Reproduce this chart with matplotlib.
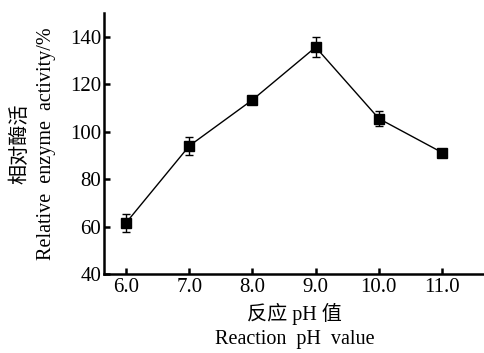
import matplotlib
matplotlib.use('Agg')
import matplotlib.pyplot as plt

ph = [6.0, 7.0, 8.0, 9.0, 10.0, 11.0]
activity = [61.6, 94.0, 113.4, 135.6, 105.5, 91.2]
errors = [3.7, 3.8, 1.6, 4.3, 3.0, 0.8]
x_ticks = ['6.0', '7.0', '8.0', '9.0', '10.0', '11.0']
y_ticks = [40, 60, 80, 100, 120, 140]

fonts = ['Liberation Serif', 'Noto Sans CJK SC']
plt.rcParams['font.family'] = fonts

fig = plt.figure(figsize=(4.85, 3.53), dpi=100)
ax = fig.add_axes([104 / 485, 1 - 274 / 353, (485 - 104) / 485, (274 - 13) / 353])

ax.errorbar(ph, activity, yerr=errors, color='black', linewidth=1.0,
            marker='s', markersize=7.5, capsize=3, elinewidth=1.0, capthick=1.0)

ax.set_xlim(5.65, 11.68)
ax.set_ylim(40, 150)
ax.set_xticks(ph)
ax.set_xticklabels(x_ticks)
ax.set_yticks(y_ticks)

for side in ['top', 'right']:
    ax.spines[side].set_visible(False)
for side in ['left', 'bottom']:
    ax.spines[side].set_linewidth(1.8)

ax.tick_params(direction='in', length=4, width=1.8, labelsize=15, pad=3)
ax.tick_params(axis='y', pad=2)

ax.set_xlabel('反应 pH 值\nReaction  pH  value', fontsize=14.5, linespacing=1.4, labelpad=4)
ax.set_ylabel('相对酶活\nRelative  enzyme  activity/%', fontsize=14.5, linespacing=1.45, labelpad=10)

fig.savefig('out.png', dpi=100)
